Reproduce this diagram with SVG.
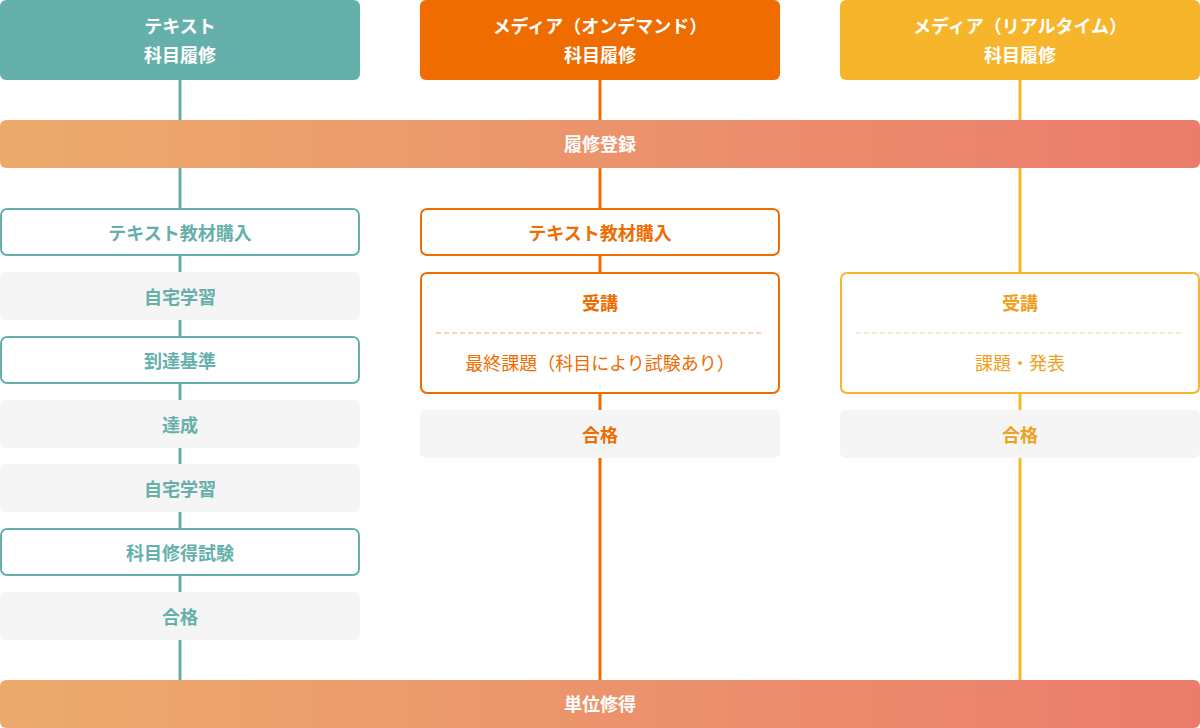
<svg xmlns="http://www.w3.org/2000/svg" width="1200" height="728" viewBox="0 0 1200 728">
<defs>
<linearGradient id="g" x1="0" x2="1" y1="0" y2="0"><stop offset="0" stop-color="#ecab6c"/><stop offset="1" stop-color="#eb7c6c"/></linearGradient>
<style>
text{font-family:"Noto Sans CJK JP","Noto Sans",sans-serif;font-size:18px;text-anchor:middle;font-weight:bold}
.w{fill:#fff}.t{fill:#66b0ab}.o{fill:#ee6c00}.y{fill:#f0a020}
.n{font-weight:normal}
.gr{fill:#f5f5f5}
</style>
</defs>
<g id="connectors">
<line x1="180" y1="80" x2="180" y2="680" stroke="#66b0ab" stroke-width="3"/>
<line x1="600" y1="80" x2="600" y2="680" stroke="#ee6c00" stroke-width="3"/>
<line x1="1020" y1="80" x2="1020" y2="680" stroke="#f7b52c" stroke-width="3"/>
</g>
<g id="h1"><rect x="0" y="0" width="360" height="80" rx="6" fill="#66b0ab"/><text x="180" y="33" class="w">テキスト</text><text x="180" y="62" class="w">科目履修</text></g>
<g id="h2"><rect x="420" y="0" width="360" height="80" rx="6" fill="#ee6c00"/><text x="600" y="33" class="w">メディア（オンデマンド）</text><text x="600" y="62" class="w">科目履修</text></g>
<g id="h3"><rect x="840" y="0" width="360" height="80" rx="6" fill="#f7b52c"/><text x="1020" y="33" class="w">メディア（リアルタイム）</text><text x="1020" y="62" class="w">科目履修</text></g>
<g id="reg"><rect x="0" y="120" width="1200" height="48" rx="6" fill="url(#g)"/><text x="600" y="151" class="w">履修登録</text></g>
<g id="fin"><rect x="0" y="680" width="1200" height="48" rx="6" fill="url(#g)"/><text x="600" y="711" class="w">単位修得</text></g>
<g id="t1"><rect x="1" y="209" width="358" height="46" rx="6" fill="#fff" stroke="#66b0ab" stroke-width="2"/><text x="180" y="240" class="t">テキスト教材購入</text></g>
<g id="t2"><rect x="0" y="272" width="360" height="48" rx="6" class="gr"/><text x="180" y="304" class="t">自宅学習</text></g>
<g id="t3"><rect x="1" y="337" width="358" height="46" rx="6" fill="#fff" stroke="#66b0ab" stroke-width="2"/><text x="180" y="368" class="t">到達基準</text></g>
<g id="t4"><rect x="0" y="400" width="360" height="48" rx="6" class="gr"/><text x="180" y="432" class="t">達成</text></g>
<g id="t5"><rect x="0" y="464" width="360" height="48" rx="6" class="gr"/><text x="180" y="496" class="t">自宅学習</text></g>
<g id="t6"><rect x="1" y="529" width="358" height="46" rx="6" fill="#fff" stroke="#66b0ab" stroke-width="2"/><text x="180" y="560" class="t">科目修得試験</text></g>
<g id="t7"><rect x="0" y="592" width="360" height="48" rx="6" class="gr"/><text x="180" y="624" class="t">合格</text></g>
<g id="o1"><rect x="421" y="209" width="358" height="46" rx="6" fill="#fff" stroke="#ee6c00" stroke-width="2"/><text x="600" y="240" class="o">テキスト教材購入</text></g>
<g id="o2"><rect x="421" y="273" width="358" height="120" rx="6" fill="#fff" stroke="#ee6c00" stroke-width="2"/><text x="600" y="310" class="o">受講</text><line x1="436" y1="333" x2="764" y2="333" stroke="#f2a070" stroke-dasharray="5 3"/><text x="600" y="370" class="o n">最終課題（科目により試験あり）</text></g>
<g id="o3"><rect x="420" y="410" width="360" height="48" rx="6" class="gr"/><text x="600" y="442" class="o">合格</text></g>
<g id="y2"><rect x="841" y="273" width="358" height="120" rx="6" fill="#fff" stroke="#f7b52c" stroke-width="2"/><text x="1020" y="310" class="y">受講</text><line x1="856" y1="333" x2="1184" y2="333" stroke="#f9d890" stroke-dasharray="5 3"/><text x="1020" y="370" class="y n">課題・発表</text></g>
<g id="y3"><rect x="840" y="410" width="360" height="48" rx="6" class="gr"/><text x="1020" y="442" class="y">合格</text></g>
</svg>
